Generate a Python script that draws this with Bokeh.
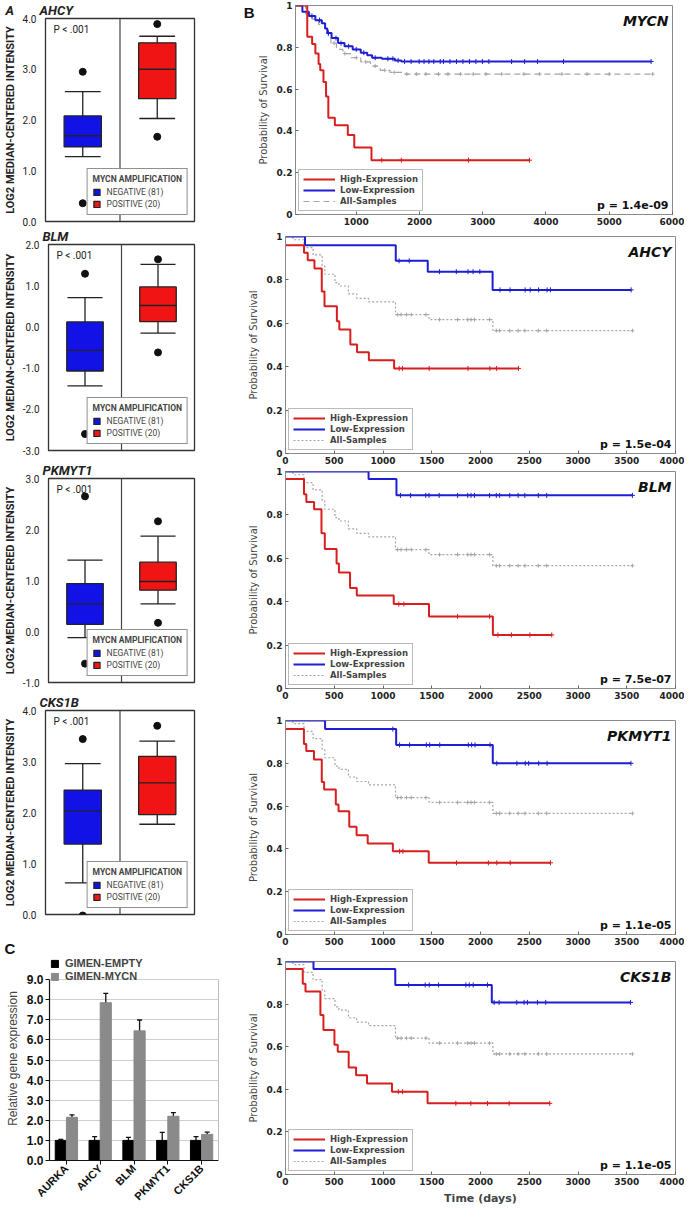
import numpy as np
from bokeh.plotting import figure
from bokeh.layouts import row, column
from bokeh.models import (Legend, LegendItem, Label, Span, FixedTicker, LinearAxis,
                          NumeralTickFormatter, ColumnDataSource, Whisker, TeeHead, FactorRange)
from bokeh.transform import dodge
from bokeh.embed import file_html
from bokeh.resources import INLINE

COND = "Roboto"
KMF = "DejaVu Sans"
ARIAL = "Liberation Sans"
NBSP = "\u00a0"

BLUE_BOX = "#1212e6"
RED_BOX = "#f01414"
KM_RED = "#d81e1e"
KM_BLUE = "#1e1ed2"
KM_GRAY = "#a5a5a5"

# ---------------- Panel A: box plots ----------------
GROUP_X = [1, 2]
GROUP_LABELS = ["NEGATIVE (81)", "POSITIVE (20)"]
# [lower whisker, Q1, median, Q3, upper whisker]
AHCY_NEG = [1.28, 1.47, 1.69, 2.08, 2.56]
AHCY_POS = [2.03, 2.42, 3.00, 3.52, 3.65]
AHCY_OUT_NEG = [2.95, 0.36]
AHCY_OUT_POS = [3.89, 1.67]
BLM_NEG = [-1.43, -1.07, -0.57, 0.12, 0.71]
BLM_POS = [-0.15, 0.13, 0.52, 0.97, 1.52]
BLM_OUT_NEG = [1.29, -2.60]
BLM_OUT_POS = [1.64, -0.62]
PKMYT1_NEG = [-0.12, 0.14, 0.54, 0.94, 1.40]
PKMYT1_POS = [0.54, 0.81, 0.98, 1.36, 1.87]
PKMYT1_OUT_NEG = [2.65, -0.63]
PKMYT1_OUT_POS = [2.16, 0.17]
CKS1B_NEG = [0.62, 1.38, 2.03, 2.44, 2.96]
CKS1B_POS = [1.77, 1.96, 2.58, 3.10, 3.40]
CKS1B_OUT_NEG = [3.44, -0.02]
CKS1B_OUT_POS = [3.70, -0.20]

# ---------------- Panel B: Kaplan-Meier curves ----------------
Y_TICKS = [0, 0.2, 0.4, 0.6, 0.8, 1]
Y_TICK_LABELS = ["0", "0.2", "0.4", "0.6", "0.8", "1"]
X_TICKS_MYCN = [1000, 2000, 3000, 4000, 5000, 6000]
X_TICKS_SMALL = [0, 500, 1000, 1500, 2000, 2500, 3000, 3500, 4000]

MYCN_HIGH_T = [0, 226, 303, 354, 405, 431, 482, 523, 559, 662, 867, 969, 1241, 3738]
MYCN_HIGH_S = [1.0, 0.85, 0.816, 0.77, 0.72, 0.69, 0.634, 0.564, 0.463, 0.427, 0.38, 0.32, 0.26, 0.26]
MYCN_HIGH_C = [1405, 1713, 2774, 3738]
MYCN_LOW_T = [0, 149, 251, 354, 456, 508, 543, 610, 713, 815, 944, 1072, 1174, 1251, 1405, 1610, 1713, 5662]
MYCN_LOW_S = [1.0, 0.97, 0.95, 0.93, 0.915, 0.89, 0.868, 0.844, 0.82, 0.805, 0.79, 0.774, 0.762, 0.75,
              0.745, 0.737, 0.732, 0.732]
MYCN_LOW_C = [300, 420, 560, 680, 760, 880, 1000, 1120, 1300, 1500, 1580, 1662, 1764, 1867, 1995, 2072,
              2149, 2226, 2328, 2379, 2482, 2585, 2687, 2790, 2892, 2995, 3097, 3456, 3662, 3867, 4277, 5662]
MYCN_ALL_T = [0, 200, 303, 405, 508, 559, 600, 687, 790, 918, 1072, 1226, 1380, 1533, 1738, 5687]
MYCN_ALL_S = [1.0, 0.96, 0.935, 0.91, 0.88, 0.85, 0.82, 0.79, 0.77, 0.75, 0.73, 0.71, 0.69, 0.68, 0.672, 0.672]
MYCN_ALL_C = [650, 820, 1000, 1150, 1300, 1450, 1600, 1800, 1950, 2100, 2300, 2450, 2650, 2850, 3050,
              3300, 3650, 3900, 4250, 4650, 5000, 5687]

ALL_T = [0, 76, 190, 283, 376, 403, 507, 548, 645, 731, 852, 1128, 1472, 2127, 3558]
ALL_S = [1.0, 0.985, 0.949, 0.915, 0.864, 0.826, 0.787, 0.772, 0.736, 0.715, 0.699, 0.64, 0.617, 0.566, 0.566]
ALL_C = [1150, 1185, 1240, 1290, 1440, 1580, 1765, 1869, 1903, 1938, 2093, 2162, 2196, 2300, 2386,
         2455, 2593, 2679, 3558]

AHCY_HIGH_T = [0, 190, 228, 297, 372, 400, 527, 552, 665, 734, 855, 1114, 2390]
AHCY_HIGH_S = [0.96, 0.925, 0.89, 0.853, 0.746, 0.678, 0.609, 0.571, 0.502, 0.467, 0.43, 0.392, 0.392]
AHCY_HIGH_C = [1166, 1200, 1474, 1871, 2096, 2165, 2390]
AHCY_LOW_T = [0, 200, 1131, 1459, 2124, 3545]
AHCY_LOW_S = [1.0, 0.96, 0.888, 0.838, 0.754, 0.754]
AHCY_LOW_C = [1165, 1269, 1579, 1752, 1872, 1924, 1993, 2200, 2303, 2458, 2510, 2596, 2683, 2717, 3545]

BLM_HIGH_T = [0, 190, 214, 293, 369, 403, 524, 548, 662, 731, 1110, 1472, 2127, 2731]
BLM_HIGH_S = [0.965, 0.895, 0.86, 0.826, 0.715, 0.643, 0.576, 0.535, 0.463, 0.429, 0.389, 0.332, 0.247, 0.247]
BLM_HIGH_C = [1162, 1214, 1765, 2093, 2179, 2317, 2507, 2731]
BLM_LOW_T = [0, 852, 1138, 3558]
BLM_LOW_S = [1.0, 0.965, 0.89, 0.89]
BLM_LOW_C = [1179, 1283, 1438, 1472, 1576, 1765, 1869, 1903, 1938, 2093, 2162, 2196, 2300, 2386, 2455,
             2593, 2679, 3558]

PKMYT1_HIGH_T = [0, 189, 213, 292, 372, 396, 516, 544, 654, 729, 843, 1101, 1469, 2718]
PKMYT1_HIGH_S = [0.96, 0.89, 0.857, 0.818, 0.713, 0.678, 0.607, 0.576, 0.503, 0.464, 0.425, 0.389, 0.335, 0.335]
PKMYT1_HIGH_C = [1170, 1204, 1754, 2081, 2167, 2305, 2718]
PKMYT1_LOW_T = [0, 406, 1135, 2126, 3543]
PKMYT1_LOW_S = [1.0, 0.96, 0.886, 0.8, 0.8]
PKMYT1_LOW_C = [1101, 1170, 1273, 1445, 1479, 1582, 1875, 1909, 1944, 2098, 2167, 2373, 2459, 2494,
                2597, 2683, 3543]

CKS1B_HIGH_T = [0, 177, 205, 358, 389, 502, 536, 648, 724, 836, 1092, 1457, 2710]
CKS1B_HIGH_S = [0.965, 0.895, 0.859, 0.749, 0.678, 0.609, 0.576, 0.502, 0.466, 0.427, 0.389, 0.334, 0.334]
CKS1B_HIGH_C = [1157, 1201, 1747, 1901, 2072, 2294, 2710]
CKS1B_LOW_T = [0, 287, 1126, 2116, 3539]
CKS1B_LOW_S = [1.0, 0.965, 0.89, 0.808, 0.808]
CKS1B_LOW_C = [1263, 1433, 1474, 1570, 1850, 1884, 1925, 2072, 2140, 2191, 2372, 2447, 2481, 2584,
               2669, 3539]

# ---------------- Panel C: qPCR bars ----------------
C_GENES = ["AURKA", "AHCY", "BLM", "PKMYT1", "CKS1B"]
C_EMPTY = [1.0, 1.0, 1.0, 1.0, 1.0]
C_EMPTY_ERR = [0.05, 0.19, 0.15, 0.40, 0.19]
C_MYCN = [2.15, 7.85, 6.45, 2.20, 1.30]
C_MYCN_ERR = [0.12, 0.47, 0.54, 0.18, 0.11]
C_TICKS = [0, 1, 2, 3, 4, 5, 6, 7, 8, 9]


def no_align(p):
    try:
        p.frame_align = False
    except Exception:
        pass
    return p


def box_panel(title, title_offset, neg, pos, out_neg, out_pos, ylo, yhi, height, top, bottom):
    p = figure(width=240, height=height, x_range=(0.5, 2.5), y_range=(ylo, yhi),
               output_backend="svg", toolbar_location=None,
               min_border_left=31, min_border_right=46,
               min_border_top=top, min_border_bottom=bottom)
    no_align(p)
    p.title.text = title
    p.title.align = "left"
    p.title.offset = title_offset
    p.title.text_font = COND
    p.title.text_font_style = "bold italic"
    p.title.text_font_size = "13px"
    p.title.standoff = 1
    p.title.text_color = "#222"
    stats = [neg, pos]
    src = ColumnDataSource(dict(
        x=GROUP_X,
        lw=[s[0] for s in stats], q1=[s[1] for s in stats], med=[s[2] for s in stats],
        q3=[s[3] for s in stats], uw=[s[4] for s in stats],
        color=[BLUE_BOX, RED_BOX]))
    lk = dict(line_color="#222", line_width=1.3)
    p.segment(x0="x", x1="x", y0="lw", y1="q1", source=src, **lk)
    p.segment(x0="x", x1="x", y0="q3", y1="uw", source=src, **lk)
    p.segment(x0=dodge("x", -0.24), x1=dodge("x", 0.24), y0="lw", y1="lw", source=src, **lk)
    p.segment(x0=dodge("x", -0.24), x1=dodge("x", 0.24), y0="uw", y1="uw", source=src, **lk)
    boxes = p.vbar(x="x", width=0.5, bottom="q1", top="q3", fill_color="color",
                   line_color="#222", line_width=1.3, source=src)
    p.segment(x0=dodge("x", -0.25), x1=dodge("x", 0.25), y0="med", y1="med", source=src, **lk)
    ox = [GROUP_X[0]] * len(out_neg) + [GROUP_X[1]] * len(out_pos)
    oy = list(out_neg) + list(out_pos)
    p.scatter(ox, oy, size=7, fill_color="#111", line_color="#111")
    p.add_layout(Span(location=1.5, dimension="height", line_color="#444", line_width=1.2))

    p.xaxis.visible = False
    p.xgrid.visible = False
    p.ygrid.visible = False
    p.outline_line_color = "#333"
    p.outline_line_width = 1.3
    ax = p.yaxis[0]
    ax.ticker = FixedTicker(ticks=list(range(ylo, yhi + 1)))
    ax.formatter = NumeralTickFormatter(format="0.0")
    ax.major_tick_line_color = None
    ax.minor_tick_line_color = None
    ax.axis_line_color = None
    ax.major_label_text_font = COND
    ax.major_label_text_font_size = "10px"
    ax.major_label_text_color = "#222"
    ax.major_label_standoff = 3
    ax.axis_label = "LOG2 MEDIAN-CENTERED INTENSITY"
    ax.axis_label_text_font = COND
    ax.axis_label_text_font_style = "bold"
    ax.axis_label_text_font_size = "11px"
    ax.axis_label_text_color = "#222"
    ax.axis_label_standoff = 3

    leg = Legend(items=[LegendItem(label=GROUP_LABELS[0], renderers=[boxes], index=0),
                        LegendItem(label=GROUP_LABELS[1], renderers=[boxes], index=1)],
                 location="bottom_right", title="MYCN AMPLIFICATION")
    leg.title_text_font = COND
    leg.title_text_font_style = "bold"
    leg.title_text_font_size = "8.5px"
    leg.title_standoff = 3
    leg.label_text_font = COND
    leg.label_text_font_size = "8.5px"
    leg.glyph_width = 8
    leg.glyph_height = 8
    leg.label_height = 10
    leg.label_standoff = 6
    leg.spacing = 2
    leg.padding = 5
    leg.margin = 6
    leg.border_line_color = "#222"
    leg.border_line_width = 1.2
    p.add_layout(leg)

    p.add_layout(Label(x=0.5, y=yhi, x_offset=8, y_offset=-5, text="P < .001",
                       text_baseline="top", text_font=COND, text_font_size="10px", text_color="#222"))
    return p


def surv_at(T, S, times):
    idx = np.searchsorted(np.asarray(T), np.asarray(times), side="right") - 1
    return np.asarray(S)[np.clip(idx, 0, len(S) - 1)]


def km_panel(gene, pval, curves, x_start, x_end, xticks, height, top, bottom, left, right,
             xlabel=None, letter=None):
    p = figure(width=444, height=height, x_range=(x_start, x_end), y_range=(0, 1),
               output_backend="svg", toolbar_location=None,
               min_border_left=left, min_border_right=right,
               min_border_top=top, min_border_bottom=bottom)
    no_align(p)
    items = {}
    for (label, T, S, C, color, dash, lw, msize) in curves:
        r = p.step(T, S, mode="after", line_color=color, line_dash=dash, line_width=lw)
        p.scatter(C, surv_at(T, S, C), marker="cross", size=msize, line_color=color, line_width=1)
        items[label] = r
    order = ["High-Expression", "Low-Expression", "All-Samples"]
    leg = Legend(items=[LegendItem(label=k, renderers=[items[k]]) for k in order],
                 location="bottom_left")
    leg.label_text_font = KMF
    leg.label_text_font_style = "bold"
    leg.label_text_font_size = "8.5px"
    leg.glyph_width = 32
    leg.glyph_height = 10
    leg.label_height = 10
    leg.spacing = 1
    leg.padding = 4
    leg.margin = 3
    leg.border_line_color = "#777"
    p.add_layout(leg)

    p.xgrid.visible = False
    p.ygrid.visible = False
    p.outline_line_color = "#8a8a8a"
    p.xaxis.ticker = FixedTicker(ticks=xticks)
    p.yaxis.ticker = FixedTicker(ticks=Y_TICKS)
    p.yaxis.major_label_overrides = {t: lab for t, lab in zip(Y_TICKS, Y_TICK_LABELS)}
    for ax in [p.xaxis[0], p.yaxis[0]]:
        ax.major_tick_in = 3
        ax.major_tick_out = 0
        ax.major_tick_line_color = "#666"
        ax.minor_tick_line_color = None
        ax.axis_line_color = "#8a8a8a"
        ax.major_label_text_font = KMF
        ax.major_label_text_font_style = "bold"
        ax.major_label_text_font_size = "9px"
        ax.major_label_text_color = "#222"
        ax.major_label_standoff = 3
    p.yaxis.axis_label = "Probability of Survival"
    p.yaxis.axis_label_text_font = KMF
    p.yaxis.axis_label_text_font_style = "normal"
    p.yaxis.axis_label_text_font_size = "10px"
    p.yaxis.axis_label_standoff = 5
    if xlabel:
        p.xaxis.axis_label = xlabel
        p.xaxis.axis_label_text_font = KMF
        p.xaxis.axis_label_text_font_style = "bold"
        p.xaxis.axis_label_text_font_size = "11px"
        p.xaxis.axis_label_standoff = 4
    if letter:
        lax = LinearAxis(ticker=FixedTicker(ticks=[1]), major_label_overrides={1: letter})
        lax.axis_line_color = None
        lax.major_tick_line_color = None
        lax.minor_tick_line_color = None
        lax.major_tick_in = 0
        lax.major_tick_out = 0
        lax.major_label_standoff = 0
        lax.major_label_text_font = ARIAL
        lax.major_label_text_font_style = "bold"
        lax.major_label_text_font_size = "15px"
        lax.major_label_text_color = "#111"
        p.add_layout(lax, "left")
    p.add_layout(Label(x=x_end, y=1, x_offset=-4, y_offset=-7, text=gene, text_align="right",
                       text_baseline="top", text_font=KMF, text_font_style="bold italic",
                       text_font_size="14px", text_color="#111"))
    p.add_layout(Label(x=x_end, y=0, x_offset=-4, y_offset=3, text=pval, text_align="right",
                       text_baseline="bottom", text_font=KMF, text_font_style="bold",
                       text_font_size="11px", text_color="#111"))
    return p


def km_curves(high, low, allc, gray_dash):
    return [
        ("All-Samples", allc[0], allc[1], allc[2], KM_GRAY, gray_dash, 1.2, 4),
        ("Low-Expression", low[0], low[1], low[2], KM_BLUE, "solid", 2, 5),
        ("High-Expression", high[0], high[1], high[2], KM_RED, "solid", 2, 5),
    ]


# ---------------- build panels ----------------
a1 = box_panel("A" + NBSP * 8 + "AHCY", -40, AHCY_NEG, AHCY_POS, AHCY_OUT_NEG, AHCY_OUT_POS,
               0, 4, 226, 17, 5)
a2 = box_panel("BLM", -6, BLM_NEG, BLM_POS, BLM_OUT_NEG, BLM_OUT_POS, -3, 2, 234, 18, 10)
a3 = box_panel("PKMYT1", -6, PKMYT1_NEG, PKMYT1_POS, PKMYT1_OUT_NEG, PKMYT1_OUT_POS, -1, 3, 232, 12, 10)
a4 = box_panel("CKS1B", -6, CKS1B_NEG, CKS1B_POS, CKS1B_OUT_NEG, CKS1B_OUT_POS, 0, 4, 245, 13, 23)

# Panel C
C_H, C_T, C_B = 272, 19, 42
C_YMAX = 10.15   # headroom above 9.0 holds the legend, as in the original
cp = figure(width=240, height=C_H, x_range=FactorRange(*C_GENES, range_padding=0, factor_padding=0),
            y_range=(0, C_YMAX), output_backend="svg", toolbar_location=None,
            min_border_left=49, min_border_right=22, min_border_top=C_T, min_border_bottom=C_B)
no_align(cp)
cp.title.text = "C"
cp.title.align = "left"
cp.title.offset = -45
cp.title.standoff = 0
cp.title.text_font = ARIAL
cp.title.text_font_style = "bold"
cp.title.text_font_size = "15px"
cp.title.text_color = "#111"
csrc = ColumnDataSource(dict(
    gene=C_GENES, empty=C_EMPTY, mycn=C_MYCN,
    e_lo=[v - e for v, e in zip(C_EMPTY, C_EMPTY_ERR)], e_hi=[v + e for v, e in zip(C_EMPTY, C_EMPTY_ERR)],
    m_lo=[v - e for v, e in zip(C_MYCN, C_MYCN_ERR)], m_hi=[v + e for v, e in zip(C_MYCN, C_MYCN_ERR)]))
r_empty = cp.vbar(x=dodge("gene", -0.165, range=cp.x_range), top="empty", width=0.33, source=csrc,
                  fill_color="#000000", line_color="#000000")
r_mycn = cp.vbar(x=dodge("gene", 0.165, range=cp.x_range), top="mycn", width=0.33, source=csrc,
                 fill_color="#8a8a8a", line_color="#8a8a8a")
for base, lo, hi in [(-0.165, "e_lo", "e_hi"), (0.165, "m_lo", "m_hi")]:
    cp.add_layout(Whisker(base=dodge("gene", base, range=cp.x_range), lower=lo, upper=hi, source=csrc,
                          line_color="#111", line_width=1.3,
                          upper_head=TeeHead(size=5, line_color="#111", line_width=1.3),
                          lower_head=TeeHead(size=5, line_color="#111", line_width=1.3)))
cp.xgrid.visible = False
cp.ygrid.grid_line_color = "#cfcfcf"
cp.outline_line_color = None
cp.yaxis.ticker = FixedTicker(ticks=C_TICKS)
cp.yaxis.formatter = NumeralTickFormatter(format="0.0")
cp.yaxis.bounds = (0, 9)
for ax in [cp.xaxis[0], cp.yaxis[0]]:
    ax.axis_line_color = "#111"
    ax.axis_line_width = 1.2
    ax.major_tick_line_color = "#111"
    ax.major_tick_out = 4
    ax.major_tick_in = 0
    ax.minor_tick_line_color = None
    ax.major_label_text_font = ARIAL
    ax.major_label_text_font_style = "bold"
    ax.major_label_text_color = "#111"
cp.yaxis.major_label_text_font_size = "12px"
cp.yaxis.major_label_standoff = 2
cp.xaxis.major_label_text_font_size = "11px"
cp.xaxis.major_label_orientation = np.pi / 4
cp.xaxis.major_label_standoff = 2
cp.yaxis.axis_label = "Relative gene expression"
cp.yaxis.axis_label_text_font = ARIAL
cp.yaxis.axis_label_text_font_style = "normal"
cp.yaxis.axis_label_text_font_size = "12px"
cp.yaxis.axis_label_standoff = 4
rax = LinearAxis(ticker=FixedTicker(ticks=[]), bounds=(0, 9))
rax.axis_line_color = "#bdbdbd"
rax.major_tick_line_color = None
rax.minor_tick_line_color = None
rax.major_tick_out = 0
rax.major_label_standoff = 0
rax.axis_label_standoff = 0
cp.add_layout(rax, "right")
cleg = Legend(items=[LegendItem(label="GIMEN-EMPTY", renderers=[r_empty]),
                     LegendItem(label="GIMEN-MYCN", renderers=[r_mycn])],
              location="top_left")
cleg.label_text_font = ARIAL
cleg.label_text_font_style = "bold"
cleg.label_text_font_size = "11px"
cleg.glyph_width = 9
cleg.glyph_height = 9
cleg.label_height = 11
cleg.label_standoff = 6
cleg.spacing = 1
cleg.padding = 0
cleg.margin = 1
cleg.border_line_color = None
cleg.background_fill_alpha = 0
cp.add_layout(cleg)

b1 = km_panel("MYCN", "p = 1.4e-09",
              km_curves((MYCN_HIGH_T, MYCN_HIGH_S, MYCN_HIGH_C), (MYCN_LOW_T, MYCN_LOW_S, MYCN_LOW_C),
                        (MYCN_ALL_T, MYCN_ALL_S, MYCN_ALL_C), "6 4"),
              40, 6000, X_TICKS_MYCN, 230, 5, 16, 49, 12, letter="B")
b2 = km_panel("AHCY", "p = 1.5e-04",
              km_curves((AHCY_HIGH_T, AHCY_HIGH_S, AHCY_HIGH_C), (AHCY_LOW_T, AHCY_LOW_S, AHCY_LOW_C),
                        (ALL_T, ALL_S, ALL_C), "2 2"),
              0, 4000, X_TICKS_SMALL, 236, 6, 13, 45, 9)
b3 = km_panel("BLM", "p = 7.5e-07",
              km_curves((BLM_HIGH_T, BLM_HIGH_S, BLM_HIGH_C), (BLM_LOW_T, BLM_LOW_S, BLM_LOW_C),
                        (ALL_T, ALL_S, ALL_C), "2 2"),
              0, 4000, X_TICKS_SMALL, 238, 5, 16, 45, 9)
b4 = km_panel("PKMYT1", "p = 1.1e-05",
              km_curves((PKMYT1_HIGH_T, PKMYT1_HIGH_S, PKMYT1_HIGH_C),
                        (PKMYT1_LOW_T, PKMYT1_LOW_S, PKMYT1_LOW_C), (ALL_T, ALL_S, ALL_C), "2 2"),
              0, 4000, X_TICKS_SMALL, 246, 16, 16, 45, 9)
b5 = km_panel("CKS1B", "p = 1.1e-05",
              km_curves((CKS1B_HIGH_T, CKS1B_HIGH_S, CKS1B_HIGH_C),
                        (CKS1B_LOW_T, CKS1B_LOW_S, CKS1B_LOW_C), (ALL_T, ALL_S, ALL_C), "2 2"),
              0, 4000, X_TICKS_SMALL, 259, 11, 35, 45, 9, xlabel="Time (days)")

layout = row(column(a1, a2, a3, a4, cp, spacing=0), column(b1, b2, b3, b4, b5, spacing=0), spacing=0)

with open("out.html", "w") as f:
    f.write(file_html(layout, INLINE))
